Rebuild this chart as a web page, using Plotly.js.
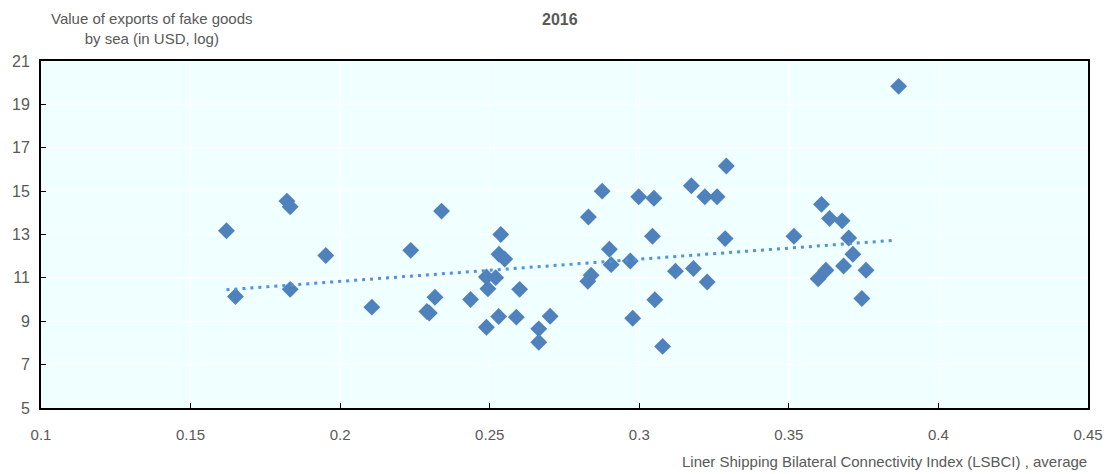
<!DOCTYPE html>
<html>
<head>
<meta charset="utf-8">
<script src="https://cdn.plot.ly/plotly-3.0.1.min.js"></script>
<style>html,body{margin:0;padding:0;background:#fff;}#chart{width:1109px;height:474px;}</style>
</head>
<body>
<div id="chart"></div>
<script>
// LSBCI average (x) and log value of fake-goods exports by sea (y)
const lsbci = [0.162, 0.165, 0.1822, 0.1833, 0.1833, 0.1952, 0.2106, 0.2236, 0.2290, 0.2298, 0.2317, 0.2339,
  0.2436, 0.2489, 0.2494, 0.2489, 0.2520, 0.2530, 0.2537, 0.2531, 0.2550, 0.2600, 0.2589, 0.2664, 0.2664, 0.2702,
  0.2830, 0.2876, 0.2828, 0.2839, 0.2900, 0.2906, 0.2970, 0.2978, 0.2998, 0.3049, 0.3044, 0.3052, 0.3078,
  0.3121, 0.3174, 0.3181, 0.3219, 0.3227, 0.3260, 0.3291, 0.3287,
  0.3517, 0.3609, 0.3636, 0.3678, 0.3700, 0.3714, 0.3624, 0.3598, 0.3683, 0.3758, 0.3744, 0.3867];
const exportsLog = [13.17, 10.14, 14.54, 14.28, 10.47, 12.03, 9.65, 12.27, 9.45, 9.38, 10.11, 14.08,
  10.0, 8.72, 10.5, 11.04, 11.01, 9.22, 13.0, 12.09, 11.87, 10.47, 9.19, 8.65, 8.03, 9.23,
  13.81, 15.0, 10.84, 11.12, 12.32, 11.61, 11.78, 9.14, 14.74, 14.67, 12.92, 9.99, 7.84,
  11.31, 15.25, 11.43, 14.74, 10.81, 14.74, 16.16, 12.81,
  12.92, 14.39, 13.74, 13.63, 12.84, 12.09, 11.35, 10.96, 11.55, 11.35, 10.05, 19.83];
// Linear trend end points
const trendX = [0.162, 0.386];
const trendY = [10.45, 12.74];
const xTicks = [0.1, 0.15, 0.2, 0.25, 0.3, 0.35, 0.4, 0.45];
const xTickText = ['0.1', '0.15', '0.2', '0.25', '0.3', '0.35', '0.4', '0.45'];
const yTicks = [5, 7, 9, 11, 13, 15, 17, 19, 21];

const FONT = '"Liberation Sans Narrow", "Arial Narrow", "Liberation Sans", Arial, sans-serif';
const GREY = '#595959';

const traces = [
  {
    x: lsbci, y: exportsLog, type: 'scatter', mode: 'markers',
    marker: {symbol: 'diamond', size: 13, color: '#4f81bd'},
    hoverinfo: 'x+y', showlegend: false
  },
  {
    x: trendX, y: trendY, type: 'scatter', mode: 'lines',
    line: {color: '#5192d8', width: 3, dash: '3px,5px'},
    hoverinfo: 'skip', showlegend: false
  }
];

const layout = {
  width: 1109, height: 474,
  margin: {l: 41, r: 21, t: 61, b: 66, pad: 0},
  paper_bgcolor: '#ffffff',
  plot_bgcolor: '#f0ffff',
  font: {family: FONT, color: GREY, size: 15},
  showlegend: false,
  xaxis: {
    range: [0.1, 0.45], tickvals: xTicks, ticktext: xTickText,
    showgrid: true, gridcolor: '#ffffff', gridwidth: 1.5,
    zeroline: false, showline: true, linecolor: '#000000', linewidth: 2, mirror: true,
    ticks: 'inside', ticklen: 5, tickcolor: '#000000', tickwidth: 1,
    ticklabelstandoff: 12,
    tickfont: {family: FONT, size: 15, color: GREY}
  },
  yaxis: {
    range: [5, 21], tickvals: yTicks,
    showgrid: true, gridcolor: '#ffffff', gridwidth: 1.5,
    zeroline: false, showline: true, linecolor: '#000000', linewidth: 2, mirror: true,
    ticks: 'inside', ticklen: 5, tickcolor: '#000000', tickwidth: 1,
    ticklabelstandoff: 6,
    tickfont: {family: FONT, size: 16, color: GREY}
  },
  annotations: [
    {text: '<b>2016</b>', xref: 'paper', yref: 'paper', x: 0.496, y: 1, yshift: 42,
     xanchor: 'center', yanchor: 'middle', showarrow: false,
     font: {family: FONT, size: 16, color: GREY}},
    {text: 'Value of exports of fake goods<br>by sea (in USD, log)', xref: 'paper', yref: 'paper',
     x: 0, xshift: 111, y: 1, yshift: 33, xanchor: 'center', yanchor: 'middle', align: 'center',
     showarrow: false, font: {family: FONT, size: 15, color: GREY}},
    {text: 'Liner Shipping Bilateral Connectivity Index (LSBCI) , average', xref: 'paper', yref: 'paper',
     x: 1, xshift: 1, y: 0, yshift: -53, xanchor: 'right', yanchor: 'middle', showarrow: false,
     font: {family: FONT, size: 15, color: GREY}}
  ]
};

Plotly.newPlot('chart', traces, layout, {displayModeBar: false, staticPlot: true});
</script>
</body>
</html>
